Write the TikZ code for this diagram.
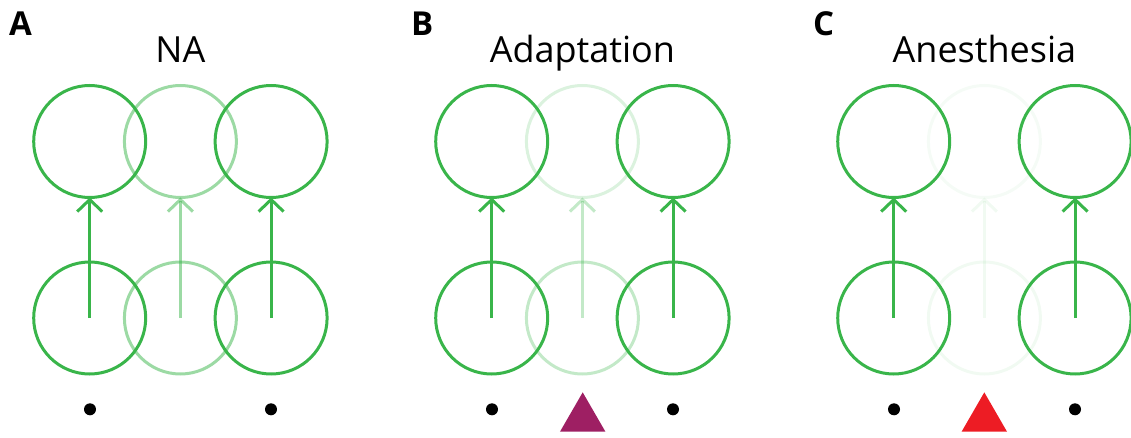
\documentclass[tikz,border=0pt]{standalone}
\usepackage{fontspec}
\setmainfont{Open Sans}
\usetikzlibrary{arrows.meta,shapes.geometric}

\definecolor{cellgreen}{HTML}{39B54A}
\definecolor{adaptpurple}{HTML}{9E1F63}
\definecolor{anesred}{HTML}{ED1C24}

\tikzset{
  cell/.style={circle, draw=cellgreen, line width=3pt, minimum size=112pt,
               inner sep=0pt, outer sep=0pt},
  conn/.style={draw=cellgreen, line width=3pt,
               -{Straight Barb[length=12pt,width=25pt,line width=3pt]}},
  stimdot/.style={circle, fill=black, minimum size=12pt, inner sep=0pt},
  stimtri/.style={regular polygon, regular polygon sides=3, minimum size=52.5pt,
                  inner sep=0pt, outer sep=0pt},
  panelletter/.style={anchor=base west, inner sep=0pt, font=\fontsize{33}{33}\selectfont\bfseries},
  paneltitle/.style={anchor=base, inner sep=0pt, font=\fontsize{36}{36}\selectfont},
}

\begin{document}
\begin{tikzpicture}[x=1pt, y=-1pt]
  \useasboundingbox (0,0) rectangle (1131,438);

  \foreach \off/\pn/\title/\ot/\ob/\oa in
      {0/A/NA/0.5/0.5/0.5,
       402/B/Adaptation/0.18/0.3/0.3,
       804/C/Anesthesia/0.05/0.07/0.07} {
    % panel letter and title
    \node[panelletter] (\pn lab) at (\off+9, 35.5) {\pn};
    \node[paneltitle] (\pn title) at (\off+180.4, 63) {\title};

    % upper row of cells
    \node[cell] (\pn t1) at (\off+89.7, 141.5) {};
    \node[cell, draw opacity=\ot] (\pn t2) at (\off+180.4, 141.5) {};
    \node[cell] (\pn t3) at (\off+271.1, 141.5) {};

    % lower row of cells
    \node[cell] (\pn b1) at (\off+89.7, 318) {};
    \node[cell, draw opacity=\ob] (\pn b2) at (\off+180.4, 318) {};
    \node[cell] (\pn b3) at (\off+271.1, 318) {};

    % feed-forward connections
    \draw[conn] (\pn b1.center) -- (\pn t1.south);
    \draw[conn, opacity=\oa] (\pn b2.center) -- (\pn t2.south);
    \draw[conn] (\pn b3.center) -- (\pn t3.south);

    % stimulus markers
    \node[stimdot] (\pn d1) at (\off+90, 409.3) {};
    \node[stimdot] (\pn d3) at (\off+271, 409.3) {};
  }

  % stimuli on the middle column
  \node[stimtri, fill=adaptpurple] (Btri) at (582.7, 418.6) {};
  \node[stimtri, fill=anesred] (Ctri) at (984.3, 418.6) {};
\end{tikzpicture}
\end{document}
